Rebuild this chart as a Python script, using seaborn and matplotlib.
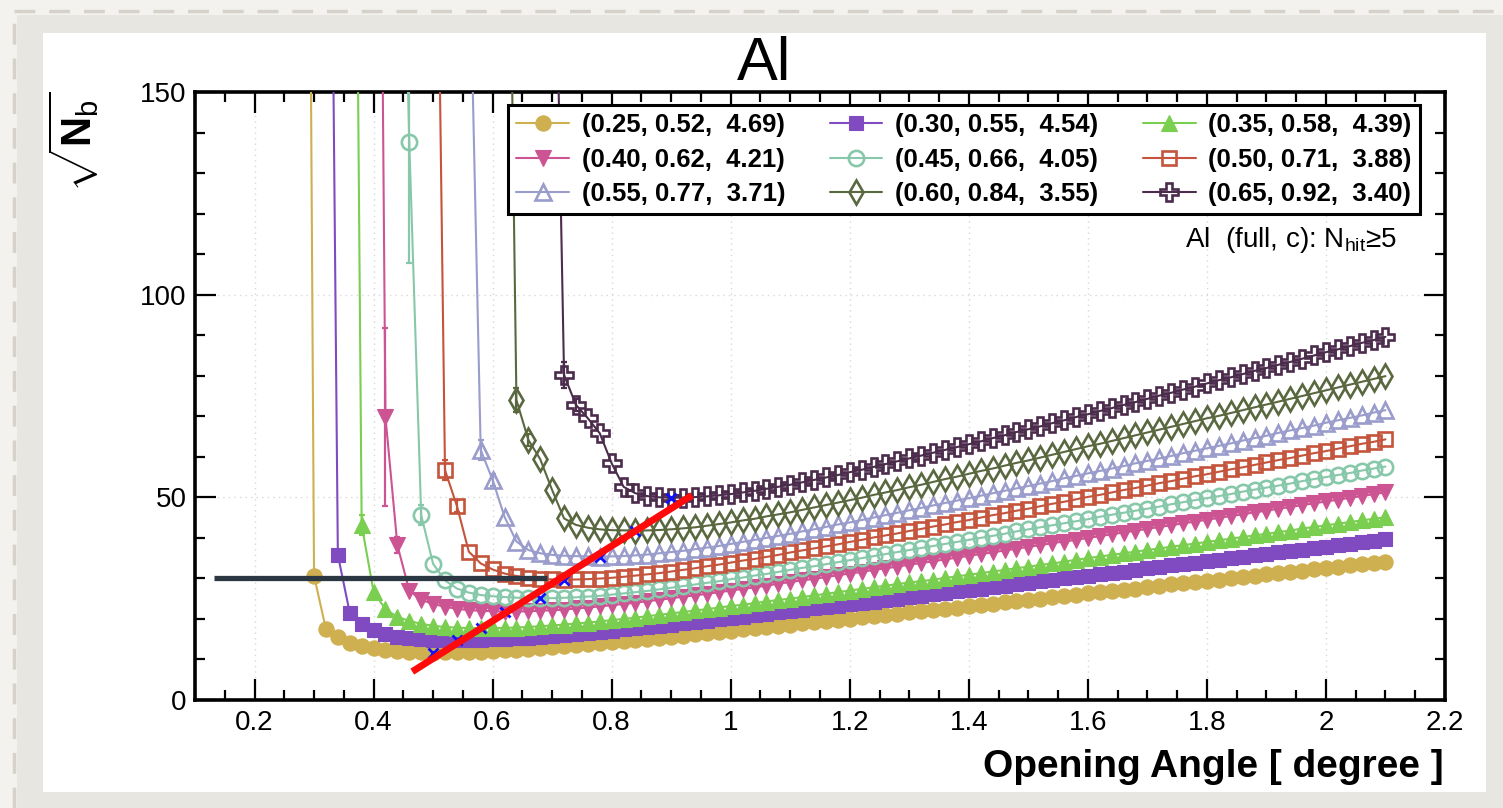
import numpy as np
import pandas as pd
import matplotlib
matplotlib.use("Agg")
import matplotlib.pyplot as plt
from matplotlib.patches import Rectangle
from matplotlib.lines import Line2D
from matplotlib.ticker import MultipleLocator, FuncFormatter
import seaborn as sns

# ---------------------------------------------------------------- data
# scan grid of opening angles [degree]
ANGLES = [0.28, 0.30, 0.32, 0.34, 0.36, 0.38, 0.40, 0.42, 0.44, 0.46,
          0.48, 0.50, 0.52, 0.54, 0.56, 0.58, 0.60, 0.62, 0.64, 0.66,
          0.68, 0.70, 0.72, 0.74, 0.76, 0.78, 0.80, 0.82, 0.84, 0.86,
          0.88, 0.90, 0.92, 0.94, 0.96, 0.98, 1.00, 1.02, 1.04, 1.06,
          1.08, 1.10, 1.12, 1.14, 1.16, 1.18, 1.20, 1.22, 1.24, 1.26,
          1.28, 1.30, 1.32, 1.34, 1.36, 1.38, 1.40, 1.42, 1.44, 1.46,
          1.48, 1.50, 1.52, 1.54, 1.56, 1.58, 1.60, 1.62, 1.64, 1.66,
          1.68, 1.70, 1.72, 1.74, 1.76, 1.78, 1.80, 1.82, 1.84, 1.86,
          1.88, 1.90, 1.92, 1.94, 1.96, 1.98, 2.00, 2.02, 2.04, 2.06,
          2.08, 2.10]

# sqrt(N_b) per configuration; each list ends at the last angle of the scan
nb_025 = [500, 30.6, 17.5, 15.5, 14.1, 13.3, 12.8, 12.4, 12.1, 11.9,
          11.8, 11.7, 11.72, 11.76, 11.84, 11.94, 12.07, 12.23, 12.40, 12.59,
          12.80, 13.0, 13.2, 13.5, 13.7, 14.0, 14.3, 14.5, 14.8, 15.1,
          15.3, 15.6, 15.9, 16.2, 16.5, 16.8, 17.1, 17.4, 17.7, 18.0,
          18.3, 18.6, 18.9, 19.2, 19.5, 19.8, 20.1, 20.4, 20.7, 21.0,
          21.3, 21.6, 21.9, 22.2, 22.5, 22.8, 23.2, 23.5, 23.8, 24.1,
          24.4, 24.7, 25.0, 25.3, 25.6, 26.0, 26.3, 26.6, 26.9, 27.2,
          27.5, 27.8, 28.1, 28.5, 28.8, 29.1, 29.4, 29.7, 30.0, 30.3,
          30.6, 31.0, 31.3, 31.6, 31.9, 32.2, 32.5, 32.8, 33.2, 33.5,
          33.8, 34.1]
nb_030 = [350, 35.8, 21.5, 18.8, 17.2, 16.2, 15.6, 15.2, 15.0, 14.9,
          14.85, 14.8, 14.82, 14.87, 14.96, 15.08, 15.2, 15.4, 15.6, 15.8,
          16.0, 16.3, 16.6, 16.8, 17.1, 17.4, 17.7, 18.0, 18.3, 18.6,
          19.0, 19.3, 19.6, 19.9, 20.3, 20.6, 20.9, 21.3, 21.6, 21.9,
          22.3, 22.6, 23.0, 23.3, 23.7, 24.0, 24.3, 24.7, 25.0, 25.4,
          25.7, 26.1, 26.4, 26.8, 27.1, 27.5, 27.9, 28.2, 28.6, 28.9,
          29.3, 29.6, 30.0, 30.3, 30.7, 31.0, 31.4, 31.7, 32.1, 32.5,
          32.8, 33.2, 33.5, 33.9, 34.2, 34.6, 35.0, 35.3, 35.7, 36.0,
          36.4, 36.7, 37.1, 37.5, 37.8, 38.2, 38.5, 38.9, 39.3, 39.6]
nb_035 = [400, 43.2, 26.7, 22.4, 20.5, 19.5, 18.8, 18.3, 18.0, 17.85,
          17.75, 17.7, 17.72, 17.78, 17.88, 18.02, 18.2, 18.4, 18.6, 18.9,
          19.1, 19.4, 19.7, 20.0, 20.3, 20.7, 21.0, 21.4, 21.7, 22.1,
          22.4, 22.8, 23.2, 23.5, 23.9, 24.3, 24.7, 25.0, 25.4, 25.8,
          26.2, 26.6, 27.0, 27.4, 27.8, 28.2, 28.6, 29.0, 29.3, 29.7,
          30.1, 30.5, 30.9, 31.3, 31.7, 32.1, 32.5, 32.9, 33.3, 33.7,
          34.1, 34.6, 35.0, 35.4, 35.8, 36.2, 36.6, 37.0, 37.4, 37.8,
          38.2, 38.6, 39.0, 39.4, 39.8, 40.2, 40.6, 41.0, 41.4, 41.8,
          42.3, 42.7, 43.1, 43.5, 43.9, 44.3, 44.7, 45.1]
nb_040 = [430, 69.8, 38.2, 27.0, 24.7, 23.7, 23.0, 22.5, 22.2, 22.0,
          21.9, 21.8, 21.82, 21.89, 22.00, 22.15, 22.3, 22.6, 22.8, 23.1,
          23.4, 23.7, 24.0, 24.4, 24.7, 25.1, 25.5, 25.8, 26.2, 26.6,
          27.0, 27.4, 27.8, 28.2, 28.7, 29.1, 29.5, 29.9, 30.3, 30.8,
          31.2, 31.6, 32.1, 32.5, 32.9, 33.4, 33.8, 34.2, 34.7, 35.1,
          35.6, 36.0, 36.4, 36.9, 37.3, 37.8, 38.2, 38.7, 39.1, 39.5,
          40.0, 40.4, 40.9, 41.3, 41.8, 42.2, 42.7, 43.1, 43.6, 44.0,
          44.5, 44.9, 45.4, 45.8, 46.3, 46.7, 47.2, 47.6, 48.1, 48.5,
          49.0, 49.4, 49.9, 50.3, 50.8, 51.2]
nb_045 = [260, 137.7, 45.6, 33.6, 29.5, 27.5, 26.5, 25.9, 25.6, 25.4,
          25.25, 25.15, 25.1, 25.13, 25.21, 25.33, 25.51, 25.7, 26.0, 26.3,
          26.6, 26.9, 27.3, 27.7, 28.1, 28.5, 28.9, 29.3, 29.8, 30.2,
          30.7, 31.1, 31.6, 32.1, 32.6, 33.0, 33.5, 34.0, 34.5, 35.0,
          35.5, 36.0, 36.5, 37.0, 37.5, 38.0, 38.5, 39.0, 39.5, 40.0,
          40.5, 41.0, 41.6, 42.1, 42.6, 43.1, 43.6, 44.1, 44.6, 45.2,
          45.7, 46.2, 46.7, 47.2, 47.7, 48.3, 48.8, 49.3, 49.8, 50.3,
          50.8, 51.4, 51.9, 52.4, 52.9, 53.4, 54.0, 54.5, 55.0, 55.5,
          56.0, 56.6, 57.1, 57.6]
nb_050 = [280, 56.7, 47.9, 36.6, 33.7, 32.2, 31.2, 30.6, 30.2, 29.9,
          29.75, 29.7, 29.73, 29.82, 29.96, 30.15, 30.4, 30.7, 31.0, 31.3,
          31.7, 32.1, 32.5, 33.0, 33.4, 33.9, 34.4, 34.8, 35.3, 35.8,
          36.4, 36.9, 37.4, 37.9, 38.4, 39.0, 39.5, 40.1, 40.6, 41.1,
          41.7, 42.2, 42.8, 43.3, 43.9, 44.4, 45.0, 45.6, 46.1, 46.7,
          47.2, 47.8, 48.4, 48.9, 49.5, 50.1, 50.6, 51.2, 51.8, 52.3,
          52.9, 53.5, 54.0, 54.6, 55.2, 55.7, 56.3, 56.9, 57.4, 58.0,
          58.6, 59.2, 59.7, 60.3, 60.9, 61.4, 62.0, 62.6, 63.2, 63.7,
          64.3]
nb_055 = [195, 61.7, 54.3, 45.2, 39.1, 37.0, 36.2, 35.8, 35.6, 35.5,
          35.45, 35.4, 35.43, 35.53, 35.68, 35.89, 36.2, 36.5, 36.8, 37.2,
          37.6, 38.0, 38.5, 39.0, 39.5, 40.0, 40.5, 41.0, 41.6, 42.1,
          42.7, 43.3, 43.8, 44.4, 45.0, 45.6, 46.2, 46.8, 47.4, 48.0,
          48.6, 49.2, 49.8, 50.4, 51.0, 51.6, 52.2, 52.8, 53.4, 54.0,
          54.7, 55.3, 55.9, 56.5, 57.1, 57.7, 58.4, 59.0, 59.6, 60.2,
          60.9, 61.5, 62.1, 62.7, 63.3, 64.0, 64.6, 65.2, 65.9, 66.5,
          67.1, 67.7, 68.4, 69.0, 69.6, 70.2, 70.9, 71.5]
nb_060 = [290, 74.0, 64.2, 59.4, 51.8, 44.8, 43.2, 42.5, 42.1, 41.9,
          41.85, 41.8, 41.84, 41.94, 42.11, 42.35, 42.6, 43.0, 43.4, 43.8,
          44.3, 44.7, 45.3, 45.8, 46.3, 46.9, 47.5, 48.1, 48.7, 49.3,
          49.9, 50.6, 51.2, 51.8, 52.5, 53.1, 53.8, 54.5, 55.1, 55.8,
          56.5, 57.1, 57.8, 58.5, 59.1, 59.8, 60.5, 61.2, 61.9, 62.6,
          63.2, 63.9, 64.6, 65.3, 66.0, 66.7, 67.4, 68.1, 68.8, 69.5,
          70.1, 70.8, 71.5, 72.2, 72.9, 73.6, 74.3, 75.0, 75.7, 76.4,
          77.1, 77.8, 78.5, 79.2, 79.9]
nb_065 = [235, 80.2, 72.8, 69.5, 65.8, 58.4, 52.6, 51.0, 50.3, 50.0,
          49.9, 49.94, 50.06, 50.24, 50.5, 50.8, 51.2, 51.6, 52.1, 52.6,
          53.1, 53.7, 54.3, 54.9, 55.5, 56.2, 56.8, 57.5, 58.2, 58.9,
          59.6, 60.3, 61.0, 61.7, 62.4, 63.1, 63.8, 64.6, 65.3, 66.1,
          66.8, 67.5, 68.3, 69.0, 69.8, 70.5, 71.3, 72.0, 72.8, 73.5,
          74.3, 75.1, 75.8, 76.6, 77.3, 78.1, 78.9, 79.6, 80.4, 81.2,
          81.9, 82.7, 83.4, 84.2, 85.0, 85.8, 86.5, 87.3, 88.1, 88.8,
          89.6]

# statistical errors on the leading points of each scan (rest negligible)
err_025 = [0.0, 0.8]
err_030 = [0.0, 1.2]
err_035 = [0.0, 2.4]
err_040 = [0.0, 22.0, 2.0]
err_045 = [0.0, 30.0, 2.5]
err_050 = [0.0, 2.5, 1.5]
err_055 = [0.0, 2.5, 1.5]
err_060 = [0.0, 3.0, 1.5]
err_065 = [0.0, 3.3, 1.5]

LABELS = ["(0.25, 0.52,  4.69)", "(0.30, 0.55,  4.54)", "(0.35, 0.58,  4.39)",
          "(0.40, 0.62,  4.21)", "(0.45, 0.66,  4.05)", "(0.50, 0.71,  3.88)",
          "(0.55, 0.77,  3.71)", "(0.60, 0.84,  3.55)", "(0.65, 0.92,  3.40)"]
SERIES = [nb_025, nb_030, nb_035, nb_040, nb_045, nb_050, nb_055, nb_060, nb_065]
ERRORS = [err_025, err_030, err_035, err_040, err_045, err_050, err_055, err_060, err_065]

# reference cut and fitted trend of the minima
cut_x = [0.132, 0.692]
cut_y = [30.0, 30.0]
trend_x = [0.465, 0.935]
trend_y = [7.0, 50.5]

# ---------------------------------------------------------------- style
COLORS = ["#cfb050", "#804ac0", "#7ace50", "#cc5492", "#88c8aa",
          "#c4543c", "#9a9ccc", "#5a6840", "#4c2c4c"]
MARKERS = ["o", "s", "^", "v", "o", "s", "^", "d", "P"]
FILLED = [True, True, True, True, False, False, False, False, False]
MSIZE = [11, 10.5, 11.5, 11.5, 11, 10.5, 12, 12, 12.5]

sns.set_theme(style="ticks")
plt.rcParams.update({
    "font.family": ["Liberation Sans", "DejaVu Sans"],
    "mathtext.fontset": "custom",
    "mathtext.rm": "Liberation Sans",
    "mathtext.it": "Liberation Sans:italic",
    "mathtext.bf": "Liberation Sans:bold",
    "axes.edgecolor": "black",
    "xtick.color": "black",
    "ytick.color": "black",
    "text.color": "black",
})

W, H = 1503, 808
fig = plt.figure(figsize=(W / 100, H / 100), dpi=100, facecolor="#f3f2ee")

# framed page background
fig.patches.append(Rectangle((17 / W, 0), 1, 1 - 15 / H, transform=fig.transFigure,
                             facecolor="#e8e6e0", edgecolor="none", zorder=-5))
fig.lines.append(Line2D([14 / W, 1], [1 - 11 / H, 1 - 11 / H], transform=fig.transFigure,
                        color="#d6d2cb", lw=2.5, dashes=(6, 4), zorder=-4))
fig.lines.append(Line2D([14 / W, 14 / W], [0, 1 - 11 / H], transform=fig.transFigure,
                        color="#d6d2cb", lw=2.5, dashes=(6, 4), zorder=-4))
fig.patches.append(Rectangle((43 / W, 1 - 792 / H), (1486 - 43) / W, (792 - 33) / H,
                             transform=fig.transFigure, facecolor="white",
                             edgecolor="none", zorder=-3))

ax = fig.add_axes([195 / W, 1 - 700 / H, 1250 / W, 608 / H])
ax.set_facecolor("white")

handles = []
for i, (yv, lab) in enumerate(zip(SERIES, LABELS)):
    xv = ANGLES[-len(yv):]
    df = pd.DataFrame({"angle": xv, "nb": yv})
    col = COLORS[i]
    sns.lineplot(data=df, x="angle", y="nb", ax=ax, color=col, linewidth=1.5,
                 marker=MARKERS[i], markersize=MSIZE[i],
                 markerfacecolor=col if FILLED[i] else "none",
                 markeredgecolor=col,
                 markeredgewidth=0.8 if FILLED[i] else 1.9,
                 sort=False, estimator=None, errorbar=None, legend=False,
                 zorder=3 + i * 0.1)
    handles.append(ax.lines[-1])
    err = np.zeros(len(yv))
    err[:len(ERRORS[i])] = ERRORS[i]
    sel = err > 0
    ax.errorbar(np.array(xv)[sel], np.array(yv)[sel], yerr=err[sel], fmt="none",
                ecolor=col, elinewidth=1.6, capsize=2.2, capthick=1.6,
                zorder=3 + i * 0.1)

# location of each minimum
min_x = [ANGLES[-len(yv):][int(np.argmin(yv))] for yv in SERIES]
min_y = [float(np.min(yv)) for yv in SERIES]
ax.plot(min_x, min_y, linestyle="none", marker="x", markersize=6.5,
        markeredgewidth=2.0, color="#1010ff", zorder=6)

ax.plot(cut_x, cut_y, color="#2b3844", linewidth=3.8, zorder=7, solid_capstyle="butt")
ax.plot(trend_x, trend_y, color="#ff0a0a", linewidth=5.0, zorder=8, solid_capstyle="butt")

ax.set_xlim(0.1, 2.2)
ax.set_ylim(0, 150)
ax.xaxis.set_major_locator(MultipleLocator(0.2))
ax.xaxis.set_minor_locator(MultipleLocator(0.05))
ax.yaxis.set_major_locator(MultipleLocator(50))
ax.yaxis.set_minor_locator(MultipleLocator(10))
ax.xaxis.set_major_formatter(FuncFormatter(lambda v, _: f"{v:g}"))
ax.yaxis.set_major_formatter(FuncFormatter(lambda v, _: f"{v:g}"))
ax.tick_params(which="both", direction="in", top=True, right=True, width=1.6,
               labelsize=20)
ax.tick_params(which="major", length=15)
ax.tick_params(which="minor", length=7)
ax.tick_params(axis="x", pad=7)
ax.tick_params(axis="y", pad=6)
ax.grid(True, which="major", color="#d8d8d8", linestyle=(0, (1, 3)), linewidth=1.0)
ax.set_axisbelow(True)
for sp in ax.spines.values():
    sp.set_linewidth(2.6)
    sp.set_color("black")
ax.set_xlabel("")
ax.set_ylabel("")

order = [0, 3, 6, 1, 4, 7, 2, 5, 8]
leg = ax.legend([handles[k] for k in order], [LABELS[k] for k in order], ncol=3,
                loc="upper left", bbox_to_anchor=(0.2504, 0.8026, 0.7296, 0.176),
                mode="expand", frameon=True, fancybox=False, edgecolor="black",
                framealpha=1, prop={"weight": "bold", "size": 18.5},
                handlelength=2.05, handletextpad=0.5, labelspacing=0.4,
                borderpad=0.32, borderaxespad=0)
leg.get_frame().set_linewidth(2.2)
leg.set_zorder(10)

fig.text(764 / W, 1 - 80 / H, "Al", fontsize=44, ha="center", va="baseline")
fig.text(1444 / W, 1 - 777 / H, "Opening Angle [ degree ]", fontsize=28,
         fontweight="bold", ha="right", va="baseline")
fig.text(74 / W, 1 - 92 / H, r"$\sqrt{\mathbf{N}_{\mathrm{b}}}$", rotation=90,
         fontsize=30, ha="center", va="top")
fig.text(1397 / W, 1 - 247 / H, r"Al  (full, c): N$_{\mathrm{hit}}$≥5", fontsize=20,
         ha="right", va="baseline")

fig.savefig("out.png", dpi=100, facecolor=fig.get_facecolor())
